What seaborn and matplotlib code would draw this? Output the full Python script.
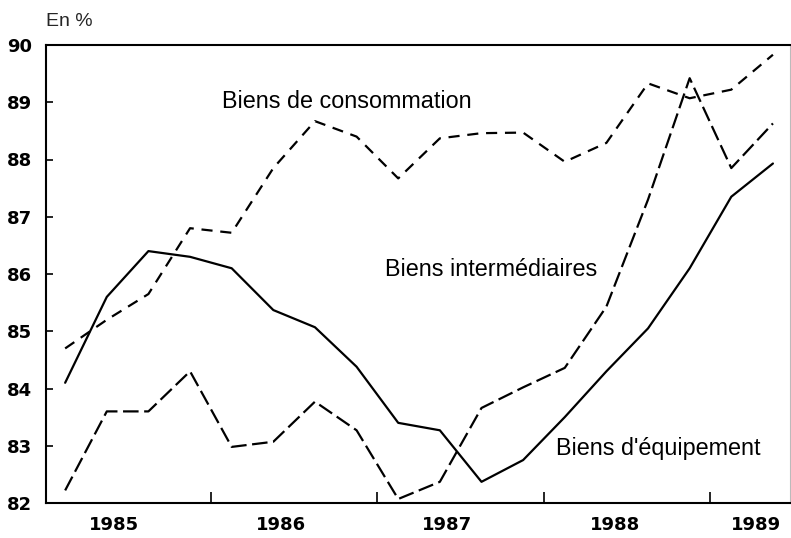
import numpy as np
import pandas as pd
import matplotlib
matplotlib.use("Agg")
import matplotlib.pyplot as plt
import seaborn as sns

# ── Data (quarterly, 1985 T1 -> 1989 T2) ──────────────────────────────────────
quarters = [f"{y}T{q}" for y in range(1985, 1990) for q in range(1, 5)][:18]

consommation = [84.7, 85.2, 85.65, 86.8, 86.72, 87.85, 88.67, 88.4, 87.67,
                88.37, 88.46, 88.47, 87.96, 88.29, 89.33, 89.07, 89.22, 89.83]
intermediaires = [82.22, 83.6, 83.6, 84.3, 82.98, 83.07, 83.77, 83.27, 82.07,
                  82.37, 83.66, 84.02, 84.36, 85.43, 87.3, 89.42, 87.85, 88.63]
equipement = [84.1, 85.6, 86.4, 86.3, 86.1, 85.37, 85.07, 84.38, 83.4,
              83.27, 82.37, 82.75, 83.5, 84.3, 85.05, 86.1, 87.35, 87.93]

series_names = ["Biens de consommation", "Biens intermédiaires", "Biens d'équipement"]
year_labels = ["1985", "1986", "1987", "1988", "1989"]
y_ticks = [82, 83, 84, 85, 86, 87, 88, 89, 90]

# ── Long-form table ───────────────────────────────────────────────────────────
idx = np.arange(len(quarters))
df = pd.concat([
    pd.DataFrame({"t": idx, "trimestre": quarters, "val": vals, "serie": name})
    for name, vals in zip(series_names, [consommation, intermediaires, equipement])
], ignore_index=True)

# ── Plot ──────────────────────────────────────────────────────────────────────
sns.set_theme(style="white")
plt.rcParams["font.family"] = ["Liberation Sans", "DejaVu Sans"]

fig = plt.figure(figsize=(7.91, 5.38), dpi=100)
ax = fig.add_axes([46 / 791, 35 / 538, 744 / 791, 458 / 538])

dashes = {
    "Biens de consommation": (5, 3.5),
    "Biens intermédiaires": (7, 2.5),
    "Biens d'équipement": "",
}
sns.lineplot(data=df, x="t", y="val", style="serie", dashes=dashes,
             color="black", linewidth=1.6, legend=False, ax=ax)

ax.set_xlim(-0.46, 17.41)
ax.set_ylim(82, 90)
ax.set_xlabel("")
ax.set_ylabel("")

# year boundaries as major ticks, year names as minor ticks
ax.set_xticks([3.5, 7.5, 11.5, 15.5])
ax.set_xticklabels([])
ax.set_xticks([1.17, 5.18, 9.17, 13.2, 16.6], minor=True)
ax.set_xticklabels(year_labels, minor=True)
ax.tick_params(axis="x", which="major", direction="in", length=8, width=1.2,
               color="black", bottom=True)
ax.tick_params(axis="x", which="minor", length=0, pad=9)

ax.set_yticks(y_ticks)
ax.set_yticklabels([str(v) for v in y_ticks])
ax.tick_params(axis="y", direction="in", length=5, width=1.2, color="black",
               left=True, pad=10)

for lab in ax.get_xticklabels(minor=True) + ax.get_yticklabels():
    lab.set_fontfamily("DejaVu Sans")
    lab.set_fontweight("bold")
    lab.set_fontsize(13)
    lab.set_color("black")

for side, sp in ax.spines.items():
    sp.set_color("black")
    sp.set_linewidth(1.5)
ax.spines["right"].set_linewidth(0.8)
ax.spines["right"].set_color("#bbbbbb")

# ── Series labels ─────────────────────────────────────────────────────────────
txt = dict(fontsize=16.8, color="black", va="center", ha="left")
ax.text(3.77, 89.02, series_names[0], **txt)
ax.text(7.68, 86.07, series_names[1], **txt)
ax.text(11.79, 82.96, series_names[2], **txt)

ax.annotate("En %", xy=(0, 1), xycoords="axes fraction", xytext=(0, 23),
            textcoords="offset pixels", ha="left", va="center", fontsize=14)

fig.savefig("out.png", dpi=100)
